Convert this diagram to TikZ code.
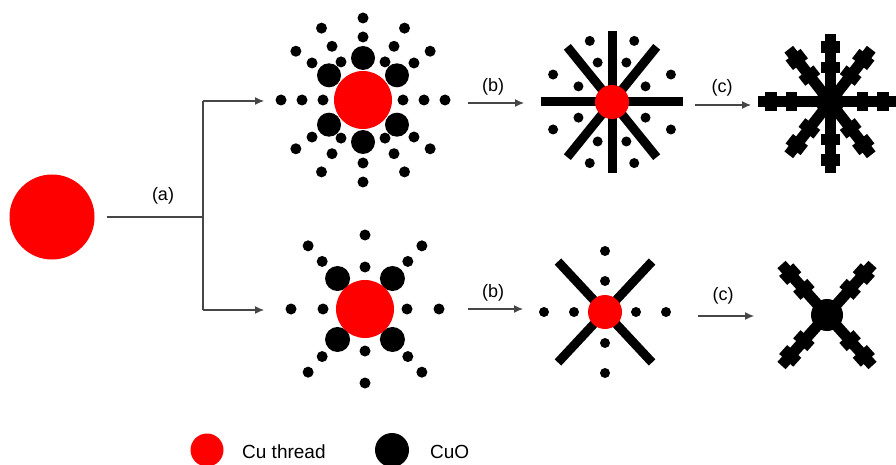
\documentclass[tikz,border=0pt]{standalone}
\usepackage{fontspec}
\setmainfont{Liberation Sans}
\usetikzlibrary{arrows.meta}
\definecolor{cured}{RGB}{255,0,0}
\definecolor{flowgrey}{RGB}{70,70,70}

% one arm of a CuO dendrite: bar with two cross pieces
% #1 = centre, #2 = angle, #3 = length
\newcommand\snowarm[3]{%
  \begin{scope}[shift={#1}, rotate=#2]
    \fill (0,-5.5) rectangle (#3,5.5);
    \fill (#3-39,-9.5) rectangle (#3-28,9.5);
    \fill (#3-19,-9.5) rectangle (#3-7,9.5);
  \end{scope}}

% a straight CuO needle
\newcommand\needle[3]{%
  \begin{scope}[shift={#1}, rotate=#2]
    \fill (0,-4.5) rectangle (#3,4.5);
  \end{scope}}

\begin{document}
\begin{tikzpicture}[x=1pt,y=-1pt,
  flow/.style={draw=flowgrey, line width=1.2pt},
  flowarrow/.style={flow, -{Latex[length=9pt,width=8pt]}},
  steplabel/.style={font=\fontsize{18}{18}\selectfont, inner sep=0pt},
  legendtext/.style={font=\fontsize{19}{19}\selectfont, inner sep=0pt, anchor=base west},
  cuball/.style={circle, fill=cured, inner sep=0pt},
  cuoball/.style={circle, fill=black, inner sep=0pt},
]
\useasboundingbox (0,0) rectangle (896,465);

% ---------- starting Cu thread and branching step (a) ----------
\node[cuball, minimum size=85pt] (start) at (52,217) {};
\coordinate (fork) at (203,217);
\coordinate (forktop) at (203,101);
\coordinate (forkbot) at (203,310);
\coordinate (topin) at (264,101);
\coordinate (botin) at (264,310);
\draw[flow, shorten <=12pt] (start.east) -- (fork);
\draw[flow] (forktop) -- (forkbot);
\draw[flowarrow] (forktop) -- (topin);
\draw[flowarrow] (forkbot) -- (botin);
\node[steplabel] (lbla) at (163,196) {(a)};

% ---------- top row, stage 1: thread with CuO particles ----------
\coordinate (T1c) at (363,100);
\begin{scope}[shift={(T1c)}]
  \foreach \a in {0,180}{\foreach \d in {40,61,82} \fill (\a:\d) circle[radius=5.5pt];}
  \foreach \a in {90,270}{\foreach \d in {63,82} \fill (\a:\d) circle[radius=5.5pt];}
  \foreach \a in {60,120,240,300}{\foreach \d in {44,62,83} \fill (\a:\d) circle[radius=5.5pt];}
  \foreach \a in {36,144,216,324}{\foreach \d in {63,83} \fill (\a:\d) circle[radius=5.5pt];}
  \foreach \a in {36,90,144,216,270,324} \fill (\a:42) circle[radius=12pt];
\end{scope}
\node[cuball, minimum size=58pt] (t1) at (T1c) {};

% ---------- top row, stage 2: needles ----------
\coordinate (T2c) at (612,102);
\begin{scope}[shift={(T2c)}]
  \foreach \a in {25,155,205,335}{\foreach \d in {37,65} \fill (\a:\d) circle[radius=5pt];}
  \foreach \a in {70,110,250,290}{\foreach \d in {42,65} \fill (\a:\d) circle[radius=5pt];}
\end{scope}
\foreach \a in {0,51,90,129,180,231,270,309} \needle{(T2c)}{\a}{71};
\node[cuball, minimum size=34pt] (t2) at (T2c) {};

% ---------- top row, stage 3: dendrite ----------
\coordinate (T3c) at (830,102);
\snowarm{(T3c)}{0}{66}
\snowarm{(T3c)}{180}{72}
\snowarm{(T3c)}{90}{68}
\snowarm{(T3c)}{270}{71}
\foreach \a in {52,128,232,308} \snowarm{(T3c)}{\a}{67};
\node[cuoball, minimum size=28pt] (t3) at (T3c) {};

% ---------- bottom row, stage 1 ----------
\coordinate (B1c) at (365,309);
\begin{scope}[shift={(B1c)}]
  \foreach \a in {0,90,180,270}{\foreach \d in {42,74} \fill (\a:\d) circle[radius=5.5pt];}
  \foreach \a in {48,132,228,312}{\foreach \d in {64,85} \fill (\a:\d) circle[radius=5.5pt];}
  \foreach \a in {48,132,228,312} \fill (\a:41) circle[radius=12.5pt];
\end{scope}
\node[cuball, minimum size=58pt] (b1) at (B1c) {};

% ---------- bottom row, stage 2 ----------
\coordinate (B2c) at (605,312);
\begin{scope}[shift={(B2c)}]
  \foreach \a in {0,90,180,270}{\foreach \d in {31,61} \fill (\a:\d) circle[radius=5pt];}
\end{scope}
\foreach \a in {47,133,227,313} \needle{(B2c)}{\a}{69};
\node[cuball, minimum size=34pt] (b2) at (B2c) {};

% ---------- bottom row, stage 3 ----------
\coordinate (B3c) at (827,315);
\foreach \a in {48,132,228,312} \snowarm{(B3c)}{\a}{68};
\node[cuoball, minimum size=32pt] (b3) at (B3c) {};

% ---------- steps (b) and (c) ----------
\coordinate (tb0) at (468,103); \coordinate (tb1) at (524,103);
\coordinate (tc0) at (695,105); \coordinate (tc1) at (751,105);
\coordinate (bb0) at (468,309); \coordinate (bb1) at (523,309);
\coordinate (bc0) at (698,316); \coordinate (bc1) at (754,316);
\draw[flowarrow] (tb0) -- (tb1);
\draw[flowarrow] (tc0) -- (tc1);
\draw[flowarrow] (bb0) -- (bb1);
\draw[flowarrow] (bc0) -- (bc1);
\node[steplabel] (lbltb) at (493,87) {(b)};
\node[steplabel] (lbltc) at (722,88) {(c)};
\node[steplabel] (lblbb) at (493,293) {(b)};
\node[steplabel] (lblbc) at (723,296) {(c)};

% ---------- legend ----------
\node[cuball, minimum size=33pt] (legcu) at (207,450) {};
\node[legendtext] (legcutext) at (242,458) {Cu thread};
\node[cuoball, minimum size=34pt] (legcuo) at (392,450) {};
\node[legendtext] (legcuotext) at (430,458) {CuO};
\end{tikzpicture}
\end{document}
